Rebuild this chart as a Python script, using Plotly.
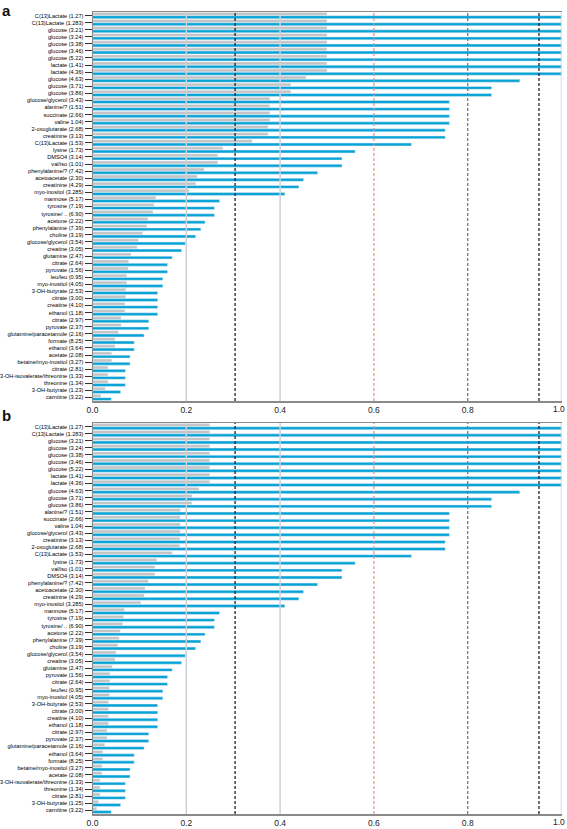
import plotly.graph_objects as go

labels_a = [
    "C(13)Lactate (1.27)", "C(13)Lactate (1.283)", "glucose (3.21)", "glucose (3.24)",
    "glucose (3.38)", "glucose (3.46)", "glucose (5.22)", "lactate (1.41)", "lactate (4.36)",
    "glucose (4.63)", "glucose (3.71)", "glucose (3.86)", "glucose/glycerol (3.43)",
    "alanine/? (1.51)", "succinate (2.66)", "valine 1.04)", "2-oxoglutarate (2.68)",
    "creatinine (3.13)", "C(13)Lactate (1.53)", "lysine (1.73)", "DMSO4 (3.14)",
    "val/iso (1.01)", "phenylalanine/? (7.42)", "acetoacetate (2.30)", "creatinine (4.29)",
    "myo-inositol (3.285)", "mannose (5.17)", "tyrosine (7.19)", "tyrosine/ .. (6.90)",
    "acetone (2.22)", "phenylalanine (7.39)", "choline (3.19)", "glucose/glycerol (3.54)",
    "creatine (3.05)", "glutamine (2.47)", "citrate (2.64)", "pyruvate (1.56)",
    "leu/leu (0.95)", "myo-inositol (4.05)", "3-OH-butyrate (2.53)", "citrate (3.00)",
    "creatine (4.10)", "ethanol (1.18)", "citrate (2.97)", "pyruvate (2.37)",
    "glutamine/paracetamole (2.16)", "formate (8.25)", "ethanol (3.64)", "acetate (2.08)",
    "betaine/myo-inositol (3.27)", "citrate (2.81)", "3-OH-isovalerate/threonine (1.33)",
    "threonine (1.34)", "3-OH-butyrate (1.23)", "carnitine (3.22)",
]
gray_a = [
    0.50, 0.50, 0.50, 0.50, 0.50, 0.50, 0.50, 0.50, 0.50,
    0.455, 0.423, 0.423, 0.378, 0.378, 0.378, 0.378, 0.374, 0.374,
    0.34, 0.278, 0.267, 0.267, 0.238, 0.223, 0.22, 0.206,
    0.135, 0.131, 0.129, 0.118, 0.116, 0.107, 0.098, 0.095, 0.082,
    0.077, 0.076, 0.073, 0.073, 0.071, 0.071, 0.069, 0.069,
    0.061, 0.061, 0.055, 0.048, 0.048, 0.041, 0.041,
    0.033, 0.033, 0.033, 0.027, 0.018,
]
blue_a = [
    1.0, 1.0, 1.0, 1.0, 1.0, 1.0, 1.0, 1.0, 1.0,
    0.911, 0.851, 0.851, 0.761, 0.761, 0.761, 0.761, 0.752, 0.752,
    0.68, 0.56, 0.532, 0.532, 0.48, 0.45, 0.44, 0.41,
    0.271, 0.26, 0.26, 0.24, 0.231, 0.22, 0.198, 0.19, 0.17,
    0.16, 0.16, 0.15, 0.15, 0.139, 0.139, 0.139, 0.139,
    0.12, 0.12, 0.11, 0.089, 0.089, 0.08, 0.08,
    0.07, 0.07, 0.07, 0.06, 0.04,
]

labels_b = [
    "C(13)Lactate (1.27)", "C(13)Lactate (1.283)", "glucose (3.21)", "glucose (3.24)",
    "glucose (3.38)", "glucose (3.46)", "glucose (5.22)", "lactate (1.41)", "lactate (4.36)",
    "glucose (4.63)", "glucose (3.71)", "glucose (3.86)", "alanine/? (1.51)",
    "succinate (2.66)", "valine 1.04)", "glucose/glycerol (3.43)", "creatinine (3.13)",
    "2-oxoglutarate (2.68)", "C(13)Lactate (1.53)", "lysine (1.73)", "val/iso (1.01)",
    "DMSO4 (3.14)", "phenylalanine/? (7.42)", "acetoacetate (2.30)", "creatinine (4.29)",
    "myo-inositol (3.285)", "mannose (5.17)", "tyrosine (7.19)", "tyrosine/ .. (6.90)",
    "acetone (2.22)", "phenylalanine (7.39)", "choline (3.19)", "glucose/glycerol (3.54)",
    "creatine (3.05)", "glutamine (2.47)", "pyruvate (1.56)", "citrate (2.64)",
    "leu/leu (0.95)", "myo-inositol (4.05)", "3-OH-butyrate (2.53)", "citrate (3.00)",
    "creatine (4.10)", "ethanol (1.18)", "citrate (2.97)", "pyruvate (2.37)",
    "glutamine/paracetamole (2.16)", "ethanol (3.64)", "formate (8.25)",
    "betaine/myo-inositol (3.27)", "acetate (2.08)", "3-OH-isovalerate/threonine (1.33)",
    "threonine (1.34)", "citrate (2.81)", "3-OH-butyrate (1.25)", "carnitine (3.22)",
]
gray_b = [
    0.25, 0.25, 0.25, 0.25, 0.25, 0.25, 0.25, 0.25, 0.25,
    0.227, 0.212, 0.212, 0.187, 0.187, 0.187, 0.187, 0.186, 0.186,
    0.17, 0.137, 0.133, 0.133, 0.119, 0.112, 0.11, 0.103,
    0.068, 0.066, 0.064, 0.059, 0.057, 0.054, 0.05, 0.048, 0.042,
    0.037, 0.037, 0.036, 0.036, 0.034, 0.034, 0.034, 0.034,
    0.031, 0.031, 0.026, 0.022, 0.022, 0.02, 0.02,
    0.016, 0.016, 0.016, 0.013, 0.009,
]
blue_b = [
    1.0, 1.0, 1.0, 1.0, 1.0, 1.0, 1.0, 1.0, 1.0,
    0.911, 0.851, 0.851, 0.761, 0.761, 0.761, 0.761, 0.752, 0.752,
    0.68, 0.56, 0.532, 0.532, 0.48, 0.45, 0.44, 0.41,
    0.271, 0.26, 0.26, 0.24, 0.231, 0.22, 0.198, 0.19, 0.17,
    0.16, 0.16, 0.15, 0.15, 0.139, 0.139, 0.139, 0.139,
    0.12, 0.12, 0.11, 0.089, 0.089, 0.08, 0.08,
    0.07, 0.07, 0.07, 0.06, 0.04,
]

x_ticks = [0.0, 0.2, 0.4, 0.6, 0.8]
x_tick_labels = ["0.0", "0.2", "0.4", "0.6", "0.8"]
x_end_label = "1.0"

GRAY = "#c3c3c3"
BLUE = "#06a3d6"
W, H = 567, 829
FONT = "Liberation Sans, Arial, sans-serif"

fig = go.Figure()
fig.add_trace(go.Bar(y=labels_a, x=gray_a, orientation="h", marker_color=GRAY,
                     xaxis="x", yaxis="y", showlegend=False))
fig.add_trace(go.Bar(y=labels_a, x=blue_a, orientation="h", marker_color=BLUE,
                     xaxis="x", yaxis="y", showlegend=False))
fig.add_trace(go.Bar(y=labels_b, x=gray_b, orientation="h", marker_color=GRAY,
                     xaxis="x2", yaxis="y2", showlegend=False))
fig.add_trace(go.Bar(y=labels_b, x=blue_b, orientation="h", marker_color=BLUE,
                     xaxis="x2", yaxis="y2", showlegend=False))

xdom = [92.5 / W, 561.5 / W]
ya_dom = [1 - 401 / H, 1 - 12 / H]
yb_dom = [1 - 814 / H, 1 - 423 / H]

XFONT = dict(size=8.5, color="#222", family=FONT)
xcommon = dict(range=[0, 1], tickvals=x_ticks, ticktext=x_tick_labels, showgrid=False,
               zeroline=False, showline=True, linecolor="#8a8a8a", linewidth=1.5,
               mirror=True, ticks="", tickfont=XFONT,
               domain=xdom, fixedrange=True, automargin=False, ticklabeloverflow="allow")
ycommon = dict(type="category", autorange="reversed", showgrid=False, zeroline=False,
               showline=True, linecolor="#8a8a8a", linewidth=1, ticks="outside",
               ticklen=7, tickwidth=1, tickcolor="#333", automargin=False,
               ticklabeloverflow="allow", fixedrange=True,
               tickfont=dict(size=5.6, color="#000", family=FONT))

fig.update_layout(
    width=W, height=H, margin=dict(l=0, r=0, t=0, b=0),
    paper_bgcolor="white", plot_bgcolor="white", hovermode=False,
    barmode="group", bargap=0.08, bargroupgap=0.1,
    xaxis=dict(**xcommon, anchor="y"),
    yaxis=dict(**ycommon, domain=ya_dom, anchor="x",
               tickmode="array", tickvals=labels_a, ticktext=labels_a),
    xaxis2=dict(**xcommon, anchor="y2"),
    yaxis2=dict(**ycommon, domain=yb_dom, anchor="x2",
                tickmode="array", tickvals=labels_b, ticktext=labels_b),
)

lines = [
    (0.2, "#cfcfd8", "solid", 1.5),
    (0.4, "#cfcfd8", "solid", 1.5),
    (1.0, "#cfcfd8", "solid", 1.5),
    (0.6, "#ee8a84", "3px,2px", 1.2),
    (0.8, "#7a7a7a", "3px,2px", 1.3),
    (0.304, "#111111", "3px,2px", 1.2),
    (0.952, "#111111", "3px,2px", 1.2),
]
for xr, yr in (("x", "y"), ("x2", "y2")):
    for xv, col, dash, w in lines:
        fig.add_shape(type="line", xref=xr, yref=f"{yr} domain", x0=xv, x1=xv, y0=0, y1=1,
                      line=dict(color=col, width=w, dash=dash), layer="above")
    # last x tick label, kept inside the page at the right edge
    fig.add_annotation(text=x_end_label, xref="paper", yref=f"{yr} domain", x=1.0, y=0,
                       xanchor="right", yanchor="top", yshift=-1, showarrow=False,
                       font=XFONT)

fig.add_annotation(text="<b>a</b>", xref="paper", yref="paper", x=0.0, y=1.0,
                   xanchor="left", yanchor="top", showarrow=False,
                   font=dict(size=15, color="#111", family="Liberation Sans, Arial"))
fig.add_annotation(text="<b>b</b>", xref="paper", yref="paper", x=0.0, y=1 - 405 / H,
                   xanchor="left", yanchor="top", showarrow=False,
                   font=dict(size=15, color="#111", family="Liberation Sans, Arial"))

fig.write_html(
    "out.html",
    config={"displayModeBar": False, "staticPlot": True},
    post_script="document.body.style.margin='0';document.documentElement.style.overflow='hidden';",
)
